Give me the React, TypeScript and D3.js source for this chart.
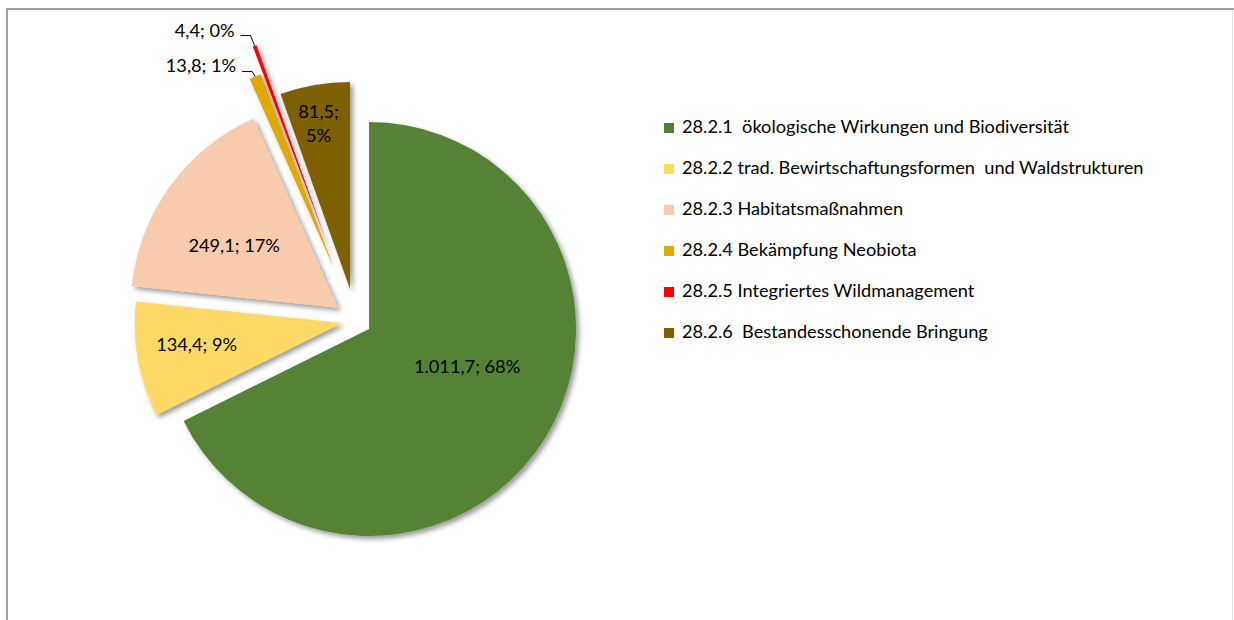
import * as React from 'react';
import * as d3 from 'd3';

const categories = [
  '28.2.1  ökologische Wirkungen und Biodiversität',
  '28.2.2 trad. Bewirtschaftungsformen  und Waldstrukturen',
  '28.2.3 Habitatsmaßnahmen',
  '28.2.4 Bekämpfung Neobiota',
  '28.2.5 Integriertes Wildmanagement',
  '28.2.6  Bestandesschonende Bringung',
];
const values = [1011.7, 134.4, 249.1, 13.8, 4.4, 81.5];
const colors = ['#548235', '#FFD966', '#F8CBAD', '#E0A800', '#FF0000', '#7F6000'];

// layout: slice explosion (px), label radius (fraction of r), label angle shift (deg)
const explode = [16, 14, 22, 57, 86, 32];
const labelRadius = [0.51, 0.71, 0.58, 0, 0, 0.81];
const labelShift = [-10, 1, -5.6, 0, 0, -1];
// outside labels: elbow offset from outer point
const outside = { 3: { dx: -3, dy: -5, ty: -4 }, 4: { dx: -4, dy: -10, ty: -3 } };

const W = 1234;
const H = 620;
const cx = 355.5;
const cy = 320.6;
const R = 207;
const FONT = 'Lato, "Open Sans", sans-serif';
const FS = 18.2;

const de = d3.formatLocale({ decimal: ',', thousands: '.', grouping: [3], currency: ['', '€'] });
const fmt = de.format(',.1f');

const Slice = ({ d, i, arc }) => {
  const mid = (d.startAngle + d.endAngle) / 2;
  const tx = explode[i] * Math.sin(mid);
  const ty = -explode[i] * Math.cos(mid);
  return (
    <g transform={`translate(${tx},${ty})`}>
      <path d={arc(d)} fill={colors[i]} filter="url(#shadow)" />
    </g>
  );
};

const Label = ({ d, i, total }) => {
  const mid = (d.startAngle + d.endAngle) / 2;
  const pct = Math.round((d.value / total) * 100) + '%';
  const txt = `${fmt(d.value)}; ${pct}`;
  const o = outside[i];
  if (o) {
    const ro = R + explode[i];
    const px = cx + ro * Math.sin(mid);
    const py = cy - ro * Math.cos(mid);
    const ex = px + o.dx;
    const ey = py + o.dy;
    return (
      <g>
        <polyline
          points={`${px},${py} ${ex},${ey} ${ex - 10},${ey}`}
          fill="none"
          stroke="#000"
          strokeWidth={1}
        />
        <text x={ex - 16} y={ey + o.ty} textAnchor="end" dominantBaseline="middle" fontSize={FS} fontFamily={FONT} fill="#000">
          {txt}
        </text>
      </g>
    );
  }
  const a = mid + (labelShift[i] * Math.PI) / 180;
  const rr = labelRadius[i] * R;
  const mx = cx + explode[i] * Math.sin(mid) + rr * Math.sin(a);
  const my = cy - explode[i] * Math.cos(mid) - rr * Math.cos(a);
  if (i === 5) {
    return (
      <text x={mx} y={my} textAnchor="middle" fontSize={FS} fontFamily={FONT} fill="#000">
        <tspan x={mx} dy={-6}>{`${fmt(d.value)};`}</tspan>
        <tspan x={mx} dy={24}>{pct}</tspan>
      </text>
    );
  }
  return (
    <text x={mx} y={my} textAnchor="middle" dominantBaseline="middle" fontSize={FS} fontFamily={FONT} fill="#000">
      {txt}
    </text>
  );
};

export default function App() {
  const total = d3.sum(values);
  const pie = d3
    .pie<number>()
    .value((v) => v)
    .sort(null);
  const arcs = pie(values);
  const arc = d3.arc().innerRadius(0).outerRadius(R);
  const legendY = d3.scalePoint().domain(categories).range([128, 333]);

  return (
    <svg width={W} height={H} style={{ position: 'absolute', left: 0, top: 0, background: '#fff' }}>
      <defs>
        <filter id="shadow" x="-20%" y="-20%" width="140%" height="140%">
          <feDropShadow dx={3} dy={3} stdDeviation={2.5} floodColor="#000" floodOpacity={0.4} />
        </filter>
      </defs>
      <rect x={0} y={0} width={W} height={H} fill="#fff" />
      <line x1={7} y1={9} x2={W} y2={9} stroke="#a0a0a0" strokeWidth={2} />
      <line x1={7} y1={8} x2={7} y2={H} stroke="#a0a0a0" strokeWidth={2} />
      <line x1={1232.5} y1={10} x2={1232.5} y2={H} stroke="#e0e0e0" strokeWidth={1} />
      <g transform={`translate(${cx},${cy})`}>
        {arcs.map((d, i) => (
          <Slice key={i} d={d} i={i} arc={arc} />
        ))}
      </g>
      {arcs.map((d, i) => (
        <Label key={i} d={d} i={i} total={total} />
      ))}
      <g>
        {categories.map((c, i) => (
          <g key={c} transform={`translate(664,${legendY(c)})`}>
            <rect x={0} y={-5} width={10} height={10} fill={colors[i]} />
            <text x={18} y={0} dominantBaseline="middle" fontSize={FS} fontFamily={FONT} fill="#000" style={{ whiteSpace: 'pre' }}>
              {c}
            </text>
          </g>
        ))}
      </g>
    </svg>
  );
}
